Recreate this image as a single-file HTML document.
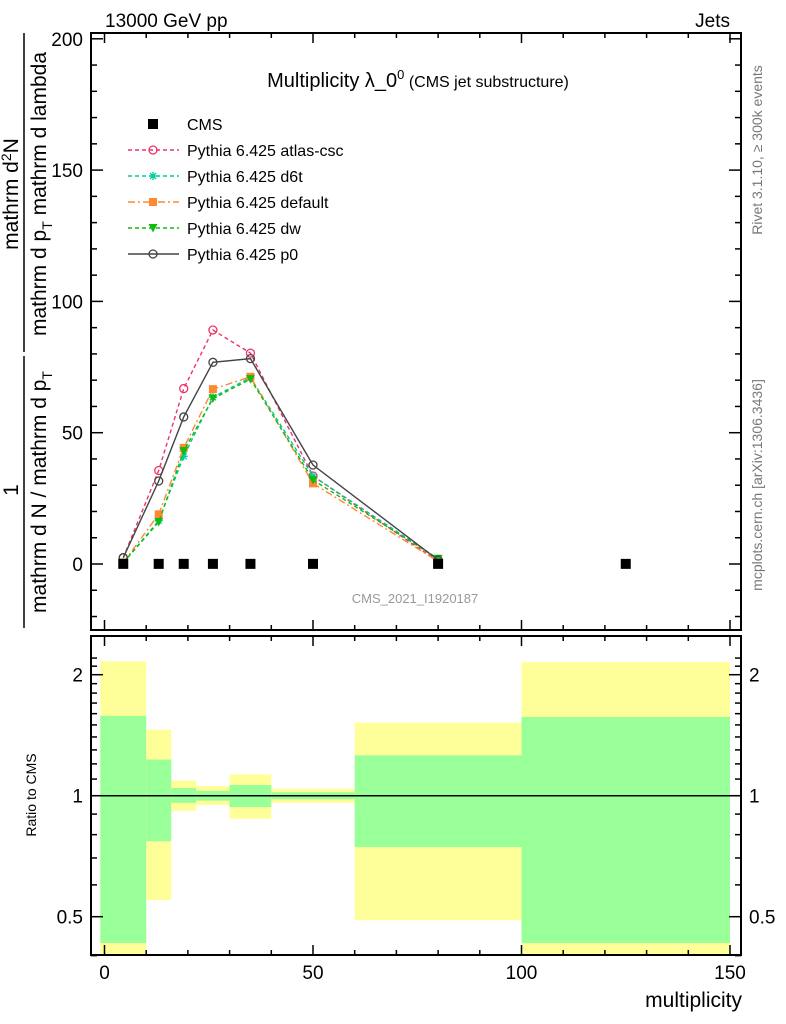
<!DOCTYPE html>
<html><head><meta charset="utf-8"><style>
html,body{margin:0;padding:0;background:#fff}
svg{display:block;font-family:"Liberation Sans",sans-serif}
</style></head><body>
<svg id="c" width="786" height="1024" viewBox="0 0 786 1024">
<rect x="0" y="0" width="786" height="1024" fill="#fff"/>
<g id="ratio"></g>
<g id="main"></g>
<rect x="91" y="33" width="650" height="597" fill="none" stroke="#000" stroke-width="2"/>
<rect x="91" y="636" width="650" height="319" fill="none" stroke="#000" stroke-width="2"/>
<text x="105" y="27" font-size="19">13000 GeV pp</text>
<text x="730" y="27" font-size="19" text-anchor="end">Jets</text>
<text x="418" y="87" font-size="20" text-anchor="middle">Multiplicity λ_0<tspan dy="-8" font-size="13">0</tspan><tspan dy="8" font-size="16"> (CMS jet substructure)</tspan></text>
<text x="415" y="603" font-size="13" fill="#999" text-anchor="middle">CMS_2021_I1920187</text>
<text transform="translate(762,150) rotate(-90)" font-size="14" fill="#777" text-anchor="middle">Rivet 3.1.10, ≥ 300k events</text>
<text transform="translate(762,485) rotate(-90)" font-size="14" fill="#777" text-anchor="middle">mcplots.cern.ch [arXiv:1306.3436]</text>
<g font-size="21">
<line x1="24" y1="628" x2="24" y2="356" stroke="#000" stroke-width="1.5"/>
<line x1="24" y1="352" x2="24" y2="33" stroke="#000" stroke-width="1.5"/>
<text transform="translate(18,490) rotate(-90)" text-anchor="middle">1</text>
<text transform="translate(46,492) rotate(-90)" text-anchor="middle">mathrm d N / mathrm d p<tspan dy="6" font-size="14">T</tspan></text>
<text transform="translate(18,194) rotate(-90)" text-anchor="middle">mathrm d<tspan dy="-7" font-size="14">2</tspan><tspan dy="7">N</tspan></text>
<text transform="translate(46,194) rotate(-90)" text-anchor="middle">mathrm d p<tspan dy="6" font-size="14">T</tspan><tspan dy="-6"> mathrm d lambda</tspan></text>
</g>
<text transform="translate(36,795) rotate(-90)" font-size="14" text-anchor="middle">Ratio to CMS</text>
<text x="742" y="1007" font-size="21" text-anchor="end">multiplicity</text>
<g id="legend"></g>
</svg>
<script>
const binEdges=[-1,10,16,22,30,40,60,100,150];
const binCenters=[4.5,13,19,26,35,50,80,125];
const cmsValues=[0.05,0.05,0.05,0.05,0.05,0.05,0.05,0.05];
const simX=[4.5,13,19,26,35,50,80];
const atlasCsc=[2.4,35.6,66.8,89.1,80.3,33.5,1];
const d6t=[0.5,16.5,41,63.5,71,33.5,2];
const dflt=[0.5,18.9,44.2,66.6,71.3,30.7,1];
const dw=[0.5,16,43,63,70.4,32,2];
const p0=[2.4,31.6,56,76.8,78.2,37.7,1.5];
const yellowHi=[2.16,1.46,1.09,1.057,1.13,1.04,1.52,2.15];
const greenHi=[1.58,1.23,1.045,1.028,1.063,1.02,1.26,1.57];
const greenLo=[0.43,0.77,0.96,0.972,0.937,0.98,0.745,0.43];
const yellowLo=[0.3,0.55,0.917,0.948,0.876,0.96,0.49,0.3];
const xTicks=[0,50,100,150];
const yTicks=[0,50,100,150,200];
const rTicks=[0.5,1,2];

const NS="http://www.w3.org/2000/svg";
const X=v=>104.5+v*4.17;
const Y=v=>564-v*2.626;
const R=v=>795.7-Math.log2(v)*121;
function mk(tag,attrs,parent){const e=document.createElementNS(NS,tag);for(const k in attrs)e.setAttribute(k,attrs[k]);parent.appendChild(e);return e;}
const main=document.getElementById('main'),ratio=document.getElementById('ratio'),svg=document.getElementById('c'),leg=document.getElementById('legend');

for(let i=0;i<binCenters.length;i++){
  const x0=Math.max(X(binEdges[i]),92),x1=Math.min(X(binEdges[i+1]),740);
  const top=Math.max(R(yellowHi[i]),637),bot=Math.min(R(yellowLo[i]),954);
  const y=mk('rect',{x:x0,y:top,width:x1-x0,height:bot-top,fill:'#ffff99'},ratio);
  
  
  const gt=R(greenHi[i]),gb=Math.min(R(greenLo[i]),954);
  const g=mk('rect',{x:x0,y:gt,width:x1-x0,height:gb-gt,fill:'#99ff99'},ratio);
  
  
}
const ul=mk('line',{x1:91,x2:741,y1:R(1),y2:R(1),stroke:'#000','stroke-width':1.5},ratio);



const tk=mk('g',{stroke:'#000','stroke-width':1.5},svg);


for(let v=0;v<=150;v+=10){const big=v%50==0;const L=big?10:5;
  [[33,1],[630,-1],[636,1],[955,-1]].forEach(([y,d])=>mk('line',{x1:X(v),x2:X(v),y1:y,y2:y+d*L},tk));}
for(let v=-20;v<=200;v+=10){const big=v%50==0;const L=big?12:6;
  mk('line',{x1:91,x2:91+L,y1:Y(v),y2:Y(v)},tk);mk('line',{x1:741,x2:741-L,y1:Y(v),y2:Y(v)},tk);}
[0.4,0.5,0.6,0.7,0.8,0.9,1,1.1,1.2,1.3,1.4,1.5,1.6,1.7,1.8,1.9,2,2.1,2.2].forEach(v=>{const big=[0.5,1,2].includes(v);const L=big?12:6;
  mk('line',{x1:91,x2:91+L,y1:R(v),y2:R(v)},tk);mk('line',{x1:741,x2:741-L,y1:R(v),y2:R(v)},tk);});
xTicks.forEach(v=>{const t=mk('text',{x:X(v),y:979,'font-size':19,'text-anchor':'middle'},svg);t.textContent=v;
  
  });
yTicks.forEach(v=>{const t=mk('text',{x:83,y:Y(v)+7,'font-size':19,'text-anchor':'end'},svg);t.textContent=v;
  
  });
rTicks.forEach(v=>{[[83,'end'],[749,'start']].forEach(([x,a])=>{const t=mk('text',{x:x,y:R(v)+7,'font-size':19,'text-anchor':a},svg);t.textContent=v;
  
  });});

function marker(type,x,y,col,p){
  if(type=='o')return mk('circle',{cx:x,cy:y,r:4,fill:'none',stroke:col,'stroke-width':1.3},p);
  if(type=='s')return mk('rect',{x:x-4,y:y-4,width:8,height:8,fill:col},p);
  if(type=='v')return mk('path',{d:`M${x-4.5},${y-4}L${x+4.5},${y-4}L${x},${y+4.5}Z`,fill:col},p);
  if(type=='*')return mk('path',{d:`M${x-4},${y}L${x+4},${y}M${x},${y-4}L${x},${y+4}M${x-3},${y-3}L${x+3},${y+3}M${x-3},${y+3}L${x+3},${y-3}`,stroke:col,'stroke-width':1.3},p);
}
const series=[
 {name:'atlas-csc',vals:atlasCsc,col:'#ee3366',dash:'4,3',m:'o',label:'Pythia 6.425 atlas-csc'},
 {name:'d6t',vals:d6t,col:'#00cc99',dash:'4,3',m:'*',label:'Pythia 6.425 d6t'},
 {name:'default',vals:dflt,col:'#ff8833',dash:'7,3,2,3',m:'s',label:'Pythia 6.425 default'},
 {name:'dw',vals:dw,col:'#11bb11',dash:'4,3',m:'v',label:'Pythia 6.425 dw'},
 {name:'p0',vals:p0,col:'#444444',dash:'',m:'o',label:'Pythia 6.425 p0'}];
series.forEach(s=>{
  const g=mk('g',{},main);
  
  
  const pl=mk('polyline',{points:s.vals.map((v,i)=>X(simX[i])+','+Y(v)).join(' '),fill:'none',stroke:s.col,'stroke-width':1.4,'stroke-dasharray':s.dash},g);
  
  
  s.vals.forEach((v,i)=>{const m=marker(s.m,X(simX[i]),Y(v),s.col,g);
    
    });
});
const cg=mk('g',{},main);


cmsValues.forEach((v,i)=>{const m=mk('rect',{x:X(binCenters[i])-5,y:Y(v)-5,width:10,height:10,fill:'#000'},cg);
  
  });

const lx=128,ly0=124,dy=26;
const e0=mk('g',{},leg);


mk('rect',{x:lx+20,y:ly0-5,width:10,height:10,fill:'#000'},e0);
const t0=mk('text',{x:187,y:ly0+6,'font-size':16},e0);t0.textContent='CMS';
series.forEach((s,i)=>{const y=ly0+dy*(i+1);
  const e=mk('g',{},leg);
  
  
  mk('line',{x1:lx,x2:lx+51,y1:y,y2:y,stroke:s.col,'stroke-width':1.4,'stroke-dasharray':s.dash},e);
  marker(s.m,lx+25,y,s.col,e);
  const t=mk('text',{x:187,y:y+6,'font-size':16},e);t.textContent=s.label;});
</script>
</body></html>
